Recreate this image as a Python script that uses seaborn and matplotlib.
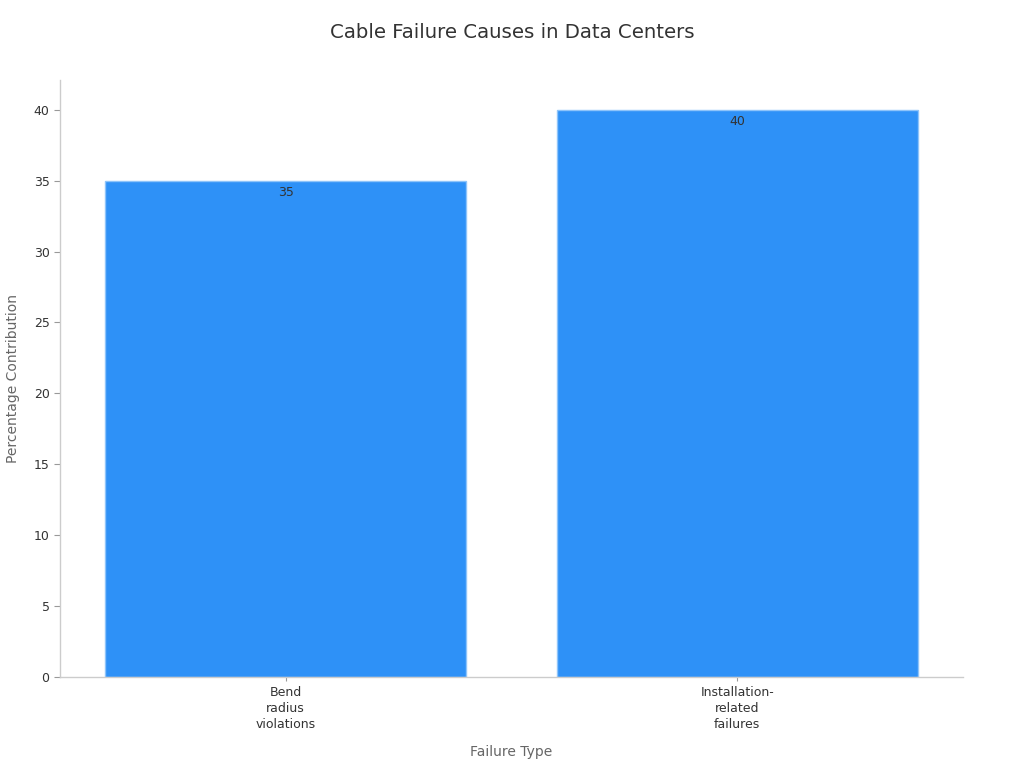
import matplotlib
matplotlib.use("Agg")
import matplotlib.pyplot as plt
import seaborn as sns
import pandas as pd

categories = ["Bend\nradius\nviolations", "Installation-\nrelated\nfailures"]
values = [35, 40]

data = pd.DataFrame({"Failure Type": categories, "Percentage Contribution": values})

sns.set_theme(style="white")
plt.rcParams["font.family"] = ["DejaVu Sans"]

fig = plt.figure(figsize=(10.24, 7.68), dpi=100)
ax = fig.add_axes([0.0586, 0.1185, 0.8818, 0.7773])

sns.barplot(data=data, x="Failure Type", y="Percentage Contribution", color="#2E91F7",
            saturation=1, width=0.8, edgecolor="#8EC4FA", linewidth=1, ax=ax)

for i, v in enumerate(values):
    ax.text(i, v - 0.35, str(v), ha="center", va="top", fontsize=9, color="#333333")

ax.set_xlim(-0.5, 1.5)
ax.set_ylim(0, 42.1)
ax.set_yticks(range(0, 41, 5))
ax.tick_params(axis="both", left=True, bottom=True, labelsize=9, labelcolor="#333333",
               color="#999999", length=4, width=0.8)
ax.tick_params(axis="x", length=3)
for t in ax.get_xticklabels():
    t.set_ha("center")
    t.set_linespacing(1.3)
ax.set_xlabel("Failure Type", fontsize=10, color="#666666", labelpad=10)
ax.set_ylabel("Percentage Contribution", fontsize=10, color="#666666", labelpad=10)
for s in ["top", "right"]:
    ax.spines[s].set_visible(False)
for s in ["left", "bottom"]:
    ax.spines[s].set_color("#CCCCCC")
    ax.spines[s].set_linewidth(1)

fig.suptitle("Cable Failure Causes in Data Centers", y=0.97, fontsize=14.2, color="#333333")

fig.savefig("out.png", dpi=100)
